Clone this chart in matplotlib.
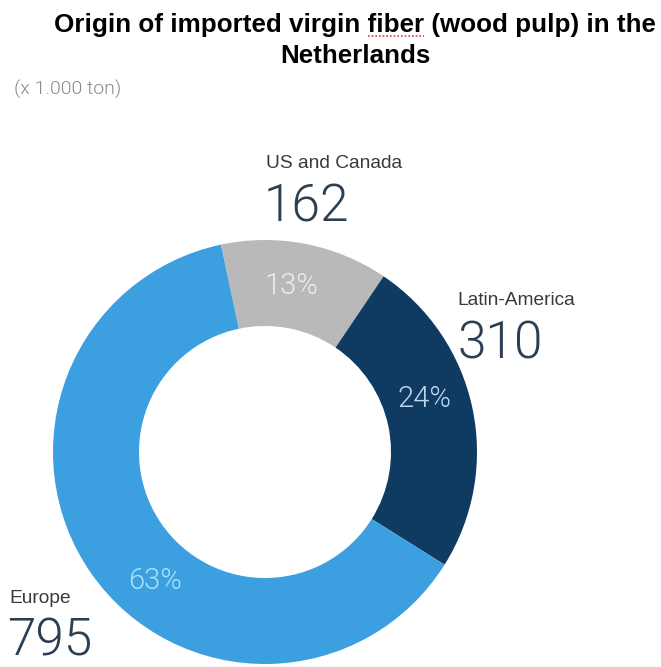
import matplotlib
matplotlib.use("Agg")
import matplotlib.pyplot as plt
from matplotlib.lines import Line2D
from matplotlib import font_manager as fm

# ---- data ----
regions = ["US and Canada", "Latin-America", "Europe"]
values = [162, 310, 795]  # x 1.000 ton
colors = ["#b9b9b9", "#0f3a62", "#3c9fdf"]
pct_colors = ["#ececec", "#bcd8ef", "#a9e3f5"]
title_line1 = "Origin of imported virgin fiber (wood pulp) in the"
title_line2 = "Netherlands"
unit_label = "(x 1.000 ton)"

W, H = 661, 667
fig = plt.figure(figsize=(W / 100, H / 100), dpi=100)

def fx(px):
    return px / W

def fy(py):
    return 1 - py / H

# donut geometry (pixels)
cx, cy, R, r = 265, 452, 212, 126
ax = fig.add_axes([fx(cx - R), fy(cy + R), 2 * R / W, 2 * R / H])
ax.pie(values, colors=colors, startangle=102, counterclock=False,
       radius=1.0, wedgeprops=dict(width=1 - r / R, edgecolor="none"))
ax.set_xlim(-1, 1)
ax.set_ylim(-1, 1)
ax.axis("off")

thin = "Roboto"
tw = 300
total = sum(values)
pcts = [round(v / total * 100) for v in values]

# percent labels (layout positions in px)
pct_pos = [(291, 286), (425, 399), (155, 581)]
for p, (px, py), c in zip(pcts, pct_pos, pct_colors):
    fig.text(fx(px), fy(py), f"{p}%", ha="center", va="center",
             fontsize=21, color=c, family=thin, fontweight=tw)

# region names and values (left x, baseline y in px)
name_pos = [(266, 168), (457, 305), (9, 603)]
val_pos = [(264, 222), (457, 358), (7, 655)]
for name, v, (nx, ny), (vx, vy) in zip(regions, values, name_pos, val_pos):
    fig.text(fx(nx), fy(ny), name, ha="left", va="baseline", fontsize=13.8,
             color="#3a3a3a", family="Liberation Sans")
    fig.text(fx(vx), fy(vy), str(v), ha="left", va="baseline", fontsize=37,
             color="#2c3e52", family=thin, fontweight=tw)

# title
t1 = fig.text(fx(355), fy(32), title_line1, ha="center", va="baseline",
              fontsize=18.7, fontweight="bold", family="Liberation Sans", color="black")
fig.text(fx(355), fy(63), title_line2, ha="center", va="baseline",
         fontsize=18.7, fontweight="bold", family="Liberation Sans", color="black")

fig.text(fx(14), fy(95), unit_label, ha="left", va="baseline", fontsize=14,
         color="#8a8a8a", family=thin, fontweight=tw)

# spell-check style underline under "fiber"
fig.canvas.draw()
renderer = fig.canvas.get_renderer()
bb = t1.get_window_extent(renderer)
fp = fm.FontProperties(family="Liberation Sans", weight="bold", size=18.7)
pre = title_line1[: title_line1.index("fiber")]
w_pre, _, _ = renderer.get_text_width_height_descent(pre, fp, ismath=False)
w_word, _, _ = renderer.get_text_width_height_descent("fiber", fp, ismath=False)
x0 = (bb.x0 + w_pre) / fig.bbox.width
x1 = (bb.x0 + w_pre + w_word) / fig.bbox.width
yl = fy(36)
fig.add_artist(Line2D([x0, x1], [yl, yl], transform=fig.transFigure,
                      color="#d04040", lw=1.2, ls=(0, (1, 1.2))))

fig.savefig("out.png", dpi=100)
